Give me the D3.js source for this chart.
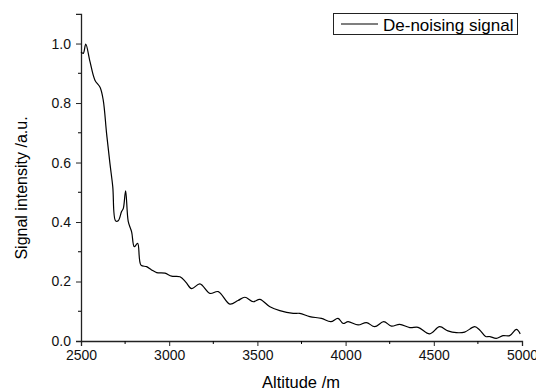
<!DOCTYPE html>
<html>
<head>
<meta charset="utf-8">
<script src="https://cdn.jsdelivr.net/npm/d3@7"></script>
<style>
  body { margin: 0; background: #fff; }
  text { font-family: "Liberation Sans", Arial, sans-serif; }
</style>
</head>
<body>
<svg id="chart" width="536" height="391"></svg>
<script>
// values
var altitude = [2500, 2513, 2527, 2551, 2579, 2608, 2626, 2645, 2664, 2680, 2696, 2711, 2730, 2740, 2753, 2768, 2787, 2802, 2821, 2840,
  2872, 2900, 2929, 2976, 3014, 3061, 3094, 3127, 3174, 3231, 3278, 3344, 3390, 3429, 3476, 3514, 3571, 3627, 3703, 3740,
  3797, 3863, 3916, 3957, 3986, 4014, 4071, 4118, 4165, 4216, 4260, 4307, 4364, 4411, 4477, 4533, 4580, 4628, 4675, 4732,
  4760, 4794, 4817, 4854, 4892, 4930, 4968, 4990]
var signal = [0.972, 0.967, 0.998, 0.939, 0.877, 0.853, 0.81, 0.698, 0.597, 0.519, 0.404, 0.404, 0.435, 0.446, 0.505, 0.401, 0.367, 0.317, 0.328, 0.255,
  0.25, 0.239, 0.23, 0.228, 0.218, 0.216, 0.198, 0.176, 0.192, 0.16, 0.166, 0.124, 0.136, 0.147, 0.132, 0.14, 0.115, 0.102, 0.093, 0.093,
  0.082, 0.076, 0.065, 0.076, 0.059, 0.065, 0.054, 0.062, 0.048, 0.065, 0.05, 0.056, 0.045, 0.046, 0.024, 0.048, 0.034, 0.028, 0.03, 0.048,
  0.037, 0.015, 0.015, 0.009, 0.018, 0.018, 0.039, 0.024]
var xTicks = [2500, 3000, 3500, 4000, 4500, 5000]
var yTicks = [0.0, 0.2, 0.4, 0.6, 0.8, 1.0]
var seriesName = "De-noising signal"

var svg = d3.select("#chart")

var x = d3.scaleLinear().domain([2500, 5000]).range([81, 522])
var y = d3.scaleLinear().domain([0, 1.1]).range([341, 13.8])

// minor ticks
var xMinor = d3.range(2750, 5000, 500)
var yMinor = d3.range(0.1, 1.1, 0.2)

var xAxis = svg.append("g")
    .attr("transform", "translate(0,341)")
    .call(d3.axisBottom(x).tickValues(xTicks).tickSize(5).tickPadding(4).tickFormat(d3.format("d")))
xAxis.append("g").selectAll("line")
    .data(xMinor)
    .enter().append("line")
    .attr("x1", function(d) { return x(d) })
    .attr("x2", function(d) { return x(d) })
    .attr("y1", 0).attr("y2", 3)
    .attr("stroke", "#000")

var yAxis = svg.append("g")
    .attr("transform", "translate(81,0)")
    .call(d3.axisLeft(y).tickValues(yTicks).tickSize(5).tickPadding(5).tickFormat(d3.format(".1f")))
yAxis.append("g").selectAll("line")
    .data(yMinor)
    .enter().append("line")
    .attr("y1", function(d) { return y(d) })
    .attr("y2", function(d) { return y(d) })
    .attr("x1", 0).attr("x2", -3)
    .attr("stroke", "#000")

svg.selectAll(".domain").attr("stroke", "#222").attr("stroke-width", 1.3)
svg.selectAll(".tick line").attr("stroke", "#222")
svg.selectAll(".tick text")
    .attr("font-size", 14)
    .attr("fill", "#111")
    .style("font-family", "'Liberation Sans', Arial, sans-serif")

// axis titles
svg.append("text")
    .attr("x", 301)
    .attr("y", 388)
    .attr("text-anchor", "middle")
    .attr("font-size", 16.5)
    .text("Altitude /m")

svg.append("text")
    .attr("transform", "translate(27,188) rotate(-90)")
    .attr("text-anchor", "middle")
    .attr("font-size", 16)
    .text("Signal intensity /a.u.")

// line
var pts = altitude.map(function(a, i) { return [a, signal[i]] })
var line = d3.line()
    .x(function(d) { return x(d[0]) })
    .y(function(d) { return y(d[1]) })
    .curve(d3.curveCatmullRom)

svg.append("path")
    .datum(pts)
    .attr("d", line)
    .attr("fill", "none")
    .attr("stroke", "#000")
    .attr("stroke-width", 1.2)

// legend
var leg = svg.append("g")
leg.append("rect")
    .attr("x", 333.5).attr("y", 13.5)
    .attr("width", 184).attr("height", 21)
    .attr("fill", "#fff")
    .attr("stroke", "#222")
leg.append("line")
    .attr("x1", 341).attr("x2", 378)
    .attr("y1", 24).attr("y2", 24)
    .attr("stroke", "#000")
    .attr("stroke-width", 1.2)
leg.append("text")
    .attr("x", 383)
    .attr("y", 30.5)
    .attr("font-size", 17)
    .text(seriesName)
</script>
</body>
</html>
